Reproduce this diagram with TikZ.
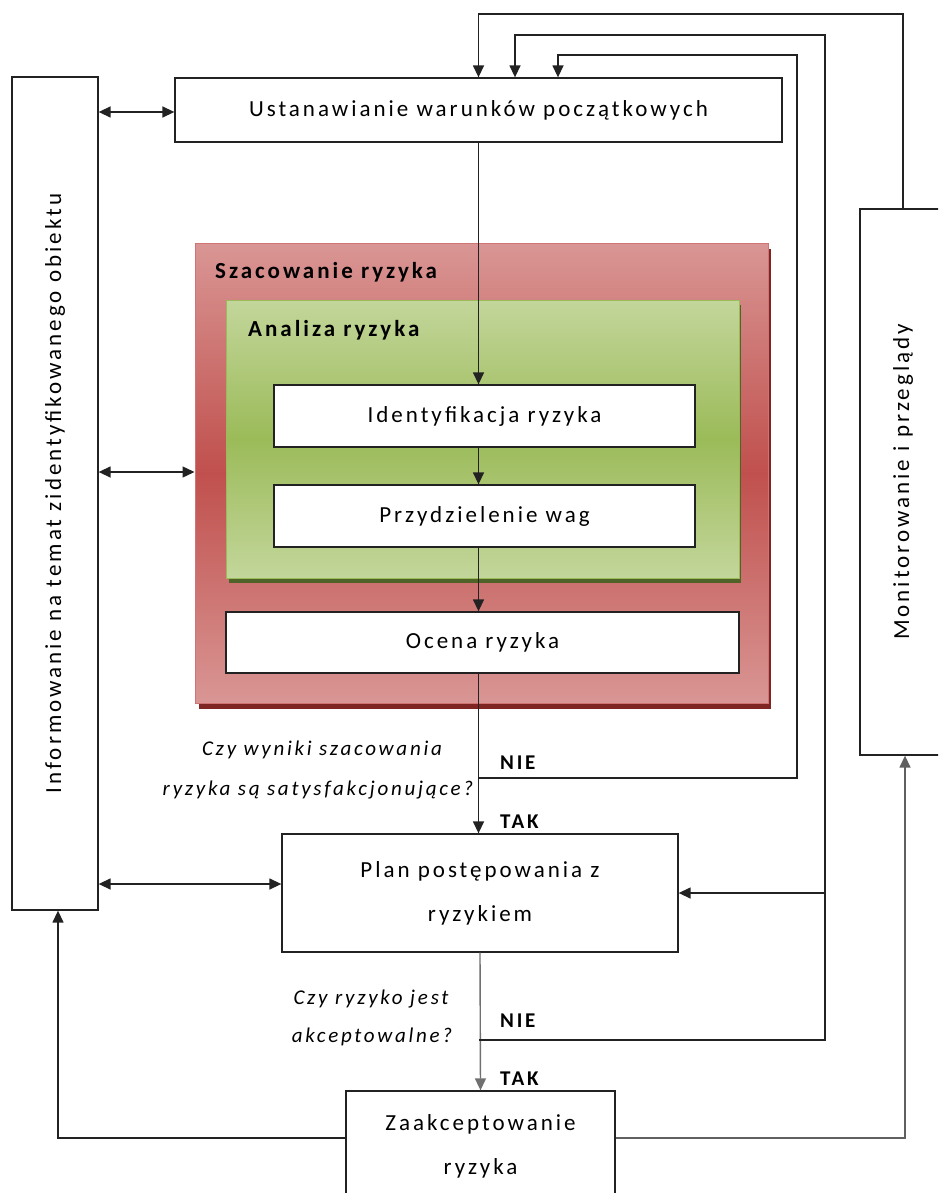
\documentclass[tikz,border=0pt]{standalone}
\usepackage{fontspec}
\setmainfont{Carlito}[LetterSpace=13]
\usetikzlibrary{arrows.meta}
\definecolor{redl}{HTML}{D99694}
\definecolor{redd}{HTML}{C0504D}
\definecolor{redb}{HTML}{CF7472}
\definecolor{reds}{HTML}{7F2624}
\definecolor{greenl}{HTML}{C3D69B}
\definecolor{greend}{HTML}{9BBB59}
\definecolor{greens}{HTML}{4F6228}
\definecolor{ink}{HTML}{222222}
\definecolor{lgray}{HTML}{707070}
\begin{document}
\begin{tikzpicture}[x=1pt,y=-1pt,
  box/.style={draw=ink,line width=1.3pt,fill=white,inner sep=0pt,align=center,font=\fontsize{23}{44}\selectfont},
  ln/.style={draw=ink,line width=1.4pt},
  arr/.style={ln,-{Triangle[length=12pt,width=11pt]}},
  darr/.style={ln,{Triangle[length=12pt,width=11pt]}-{Triangle[length=12pt,width=11pt]}},
  lbl/.style={font=\bfseries\fontsize{21}{24}\selectfont,inner sep=0pt,anchor=west},
  ttl/.style={font=\bfseries\fontsize{23}{26}\selectfont,inner sep=0pt,anchor=west},
  q/.style={font=\itshape\fontsize{21}{24}\selectfont,inner sep=0pt},
  vtxt/.style={rotate=90,inner sep=0pt,font=\fontsize{23}{26}\selectfont}]
\useasboundingbox (0,0) rectangle (938,1193);
\clip (0,0) rectangle (938,1193);
\fill[white] (0,0) rectangle (938,1193);

% shadows and containers
\fill[reds] (199,249) rectangle (771,709);
\node[draw=redb,line width=1pt,inner sep=0pt,minimum width=573,minimum height=460,
  top color=redl,bottom color=redl,middle color=redd] (red) at (481.5,473) {};
\node[ttl] (redt) at (215,272) {Szacowanie ryzyka};
\fill[greens] (229,305) rectangle (741,583);
\node[draw=greend,line width=1pt,inner sep=0pt,minimum width=513,minimum height=278,
  top color=greenl,bottom color=greenl,middle color=greend] (green) at (482.5,439) {};
\node[ttl] (greent) at (248,330) {Analiza ryzyka};

% boxes
\node[box,minimum width=607,minimum height=64] (top) at (478.5,110) {Ustanawianie warunków początkowych};
\node[box,minimum width=86,minimum height=833] (info) at (55,493.5) {};
\node[vtxt] at (info.center) {Informowanie na temat zidentyfikowanego obiektu};
\node[box,minimum width=86,minimum height=546] (mon) at (903,482) {};
\node[vtxt] at (mon.center) {Monitorowanie i przeglądy};
\node[box,minimum width=421,minimum height=62] (ident) at (484.5,416) {Identyfikacja ryzyka};
\node[box,minimum width=421,minimum height=62] (przydz) at (484.5,516) {Przydzielenie wag};
\node[box,minimum width=513,minimum height=61] (ocena) at (482.5,642.5) {Ocena ryzyka};
\node[box,minimum width=396,minimum height=118] (plan) at (480,893) {Plan postępowania z\\ryzykiem};
\node[box,minimum width=269,minimum height=110] (zaak) at (480.5,1146) {Zaakceptowanie\\ryzyka};

% main flow
\draw[arr] (top.south) -- (top.south |- ident.north);
\draw[arr] (ident.south -| top.south) -- (przydz.north -| top.south);
\draw[arr] (przydz.south -| top.south) -- (ocena.north -| top.south);
\draw[arr] (ocena.south -| top.south) -- (plan.north -| top.south);
\draw[arr,draw=lgray] (plan.south) -- (zaak.north);

% feedback loops
\coordinate (nie1) at (478.5,778);
\draw[arr] (nie1) -- (797,778) -- (797,55) -- (558,55) -- (558,0 |- top.north);
\coordinate (nie2) at (478.5,1040);
\draw[arr] (nie2) -- (825,1040) -- (825,35) -- (515,35) -- (515,0 |- top.north);
\draw[arr] (825,0 |- plan.east) -- (plan.east);
\draw[arr] (mon.north) -- (903,14) -- (478.5,14) -- (top.north);

% bottom returns
\draw[arr] (0,1138 -| zaak.west) -- (58,1138) -- (58,0 |- info.south);
\draw[arr,draw=lgray!80!ink] (0,1138 -| zaak.east) -- (905,1138) -- (905,0 |- mon.south);

% double arrows to info
\draw[darr] (info.east |- 0,112) -- (top.west |- 0,112);
\draw[darr] (info.east |- 0,472) -- (red.west |- 0,472);
\draw[darr] (info.east |- 0,884) -- (plan.west |- 0,884);

% labels
\node[lbl] at (500,763) {NIE};
\node[lbl] at (500,822) {TAK};
\node[lbl] at (500,1021) {NIE};
\node[lbl] at (500,1079) {TAK};
\node[q] at (322,750) {Czy wyniki szacowania};
\node[q] at (318,790) {ryzyka są satysfakcjonujące?};
\node[q] at (371,999) {Czy ryzyko jest};
\node[q] at (372,1037) {akceptowalne?};
\end{tikzpicture}
\end{document}
